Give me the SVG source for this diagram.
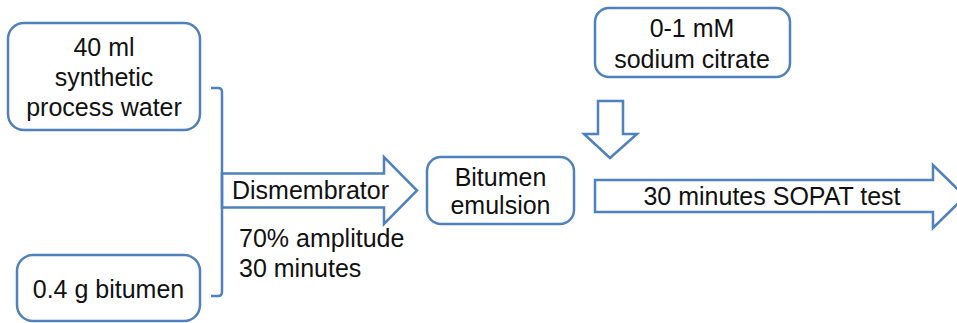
<svg xmlns="http://www.w3.org/2000/svg" width="957" height="323" viewBox="0 0 957 323">
<style>
.box{fill:#fff;stroke:#4F81BD;stroke-width:2.5}
.arr{fill:#fff;stroke:#4F81BD;stroke-width:2.5;stroke-linejoin:miter}
.ln{fill:none;stroke:#4F81BD;stroke-width:2.5}
text{font-family:"Liberation Sans",Arial,sans-serif;font-size:25px;fill:#111}
.c{text-anchor:middle}
</style>
<rect width="957" height="323" fill="#fff"/>
<g id="water">
<rect class="box" x="8" y="23" width="192" height="107" rx="16"/>
<text class="c" x="104" y="56">40 ml</text>
<text class="c" x="104" y="86">synthetic</text>
<text class="c" x="104" y="116">process water</text>
</g>
<g id="bitumen">
<rect class="box" x="17" y="255" width="183" height="66" rx="16"/>
<text class="c" x="108.5" y="298">0.4 g bitumen</text>
</g>
<g id="citrate">
<rect class="box" x="595" y="8" width="195" height="69" rx="14"/>
<text class="c" x="692" y="37">0-1 mM</text>
<text class="c" x="692" y="68">sodium citrate</text>
</g>
<g id="emulsion">
<rect class="box" x="427" y="157" width="147" height="67" rx="14"/>
<text class="c" x="500.5" y="186">Bitumen</text>
<text class="c" x="500.5" y="214">emulsion</text>
</g>
<g id="connectors">
<polygon class="arr" points="222,173.5 384,173.5 384,157 417,190.5 384,224 384,207.5 222,207.5"/>
<path class="ln" d="M211,88 H218 Q222,88 222,92 V292 Q222,296 218,296 H211"/>
<polygon class="arr" points="598,101 623,101 623,134 637,134 610,158 584,134 598,134"/>
<polygon class="arr" points="595,180 933,180 933,165 965,196.5 933,228 933,212 595,212"/>
<text x="232" y="199">Dismembrator</text>
<text x="239" y="247">70% amplitude</text>
<text x="239" y="277">30 minutes</text>
<text class="c" x="772" y="205">30 minutes SOPAT test</text>
</g>
</svg>
